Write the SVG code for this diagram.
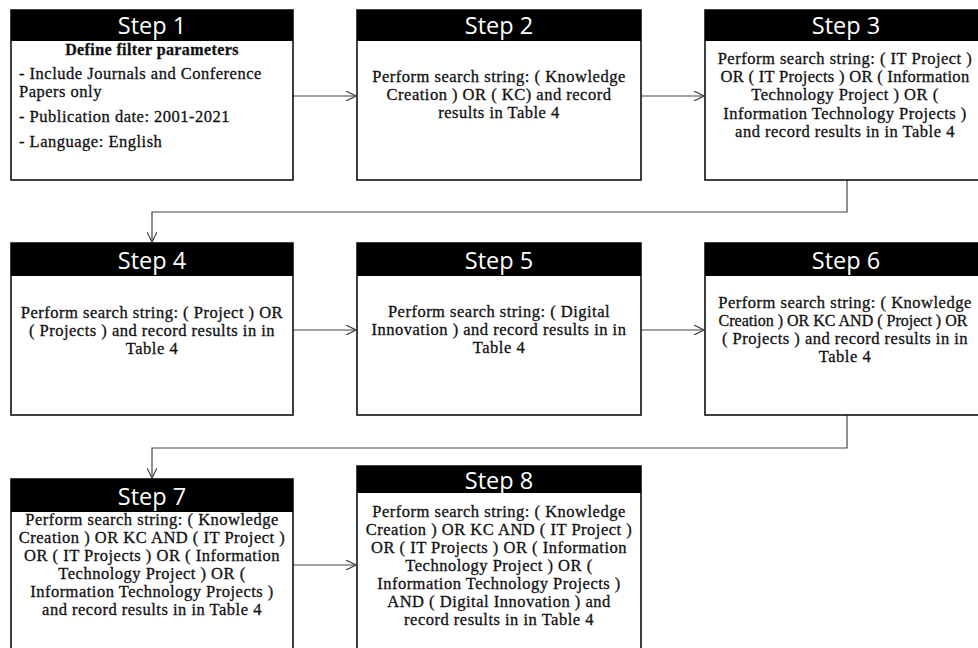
<svg xmlns="http://www.w3.org/2000/svg" width="978" height="648" viewBox="0 0 978 648">
<style>
.box{fill:#fff;stroke:#111;stroke-width:1.6}
.hdr{fill:#000}
.st{font-family:"Open Sans","Liberation Sans",sans-serif;font-size:23.5px;fill:#fff;text-anchor:middle}
.bt{font-family:"Liberation Serif","DejaVu Serif",serif;font-size:16.5px;letter-spacing:0.5px;fill:#111;stroke:#111;stroke-width:0.3;text-anchor:middle}
.lt{font-family:"Liberation Serif","DejaVu Serif",serif;font-size:16.5px;letter-spacing:0.5px;fill:#111;stroke:#111;stroke-width:0.3}
.con{fill:none;stroke:#444;stroke-width:1.2}
</style>
<defs>
<marker id="ah" viewBox="0 0 10 10" refX="10" refY="5" markerWidth="10" markerHeight="10" markerUnits="userSpaceOnUse" orient="auto">
<path d="M0,0 L10,5 L0,10" fill="none" stroke="#444" stroke-width="1.2"/>
</marker>
</defs>
<rect width="978" height="648" fill="#fff"/>
<g id="connectors">
<line class="con" x1="293" y1="96" x2="356" y2="96" marker-end="url(#ah)"/>
<line class="con" x1="641" y1="96" x2="704" y2="96" marker-end="url(#ah)"/>
<polyline class="con" points="847,180 847,212 152,212 152,242" marker-end="url(#ah)"/>
<line class="con" x1="293" y1="330" x2="356" y2="330" marker-end="url(#ah)"/>
<line class="con" x1="641" y1="330" x2="704" y2="330" marker-end="url(#ah)"/>
<polyline class="con" points="847,415 847,448 152,448 152,478" marker-end="url(#ah)"/>
<line class="con" x1="293" y1="565" x2="356" y2="565" marker-end="url(#ah)"/>
</g>
<g id="step1">
<rect class="box" x="11" y="10" width="282" height="170"/>
<rect class="hdr" x="11" y="10" width="282" height="31"/>
<text class="st" x="152" y="34">Step 1</text>
<text class="bt" x="152" y="55" style="font-weight:bold;font-size:16px;letter-spacing:0.4px">Define filter parameters</text>
<text class="lt" x="19" y="79">- Include Journals and Conference</text>
<text class="lt" x="19" y="97">Papers only</text>
<text class="lt" x="19" y="122">- Publication date: 2001-2021</text>
<text class="lt" x="19" y="147">- Language: English</text>
</g>
<g id="step2">
<rect class="box" x="357" y="10" width="284" height="170"/>
<rect class="hdr" x="357" y="10" width="284" height="31"/>
<text class="st" x="499" y="34">Step 2</text>
<text class="bt" x="499" y="82">Perform search string: ( Knowledge</text>
<text class="bt" x="499" y="100">Creation ) OR ( KC)  and record</text>
<text class="bt" x="499" y="118">results in Table 4</text>
</g>
<g id="step3">
<rect class="box" x="705" y="10" width="282" height="170"/>
<rect class="hdr" x="705" y="10" width="282" height="31"/>
<text class="st" x="846" y="34">Step 3</text>
<text class="bt" x="845" y="64">Perform search string: ( IT Project )</text>
<text class="bt" x="845" y="82" style="letter-spacing:0.3px">OR ( IT Projects ) OR ( Information</text>
<text class="bt" x="845" y="100">Technology Project ) OR (</text>
<text class="bt" x="845" y="119">Information Technology Projects )</text>
<text class="bt" x="845" y="137">and record results in in Table 4</text>
</g>
<g id="step4">
<rect class="box" x="11" y="243" width="282" height="172"/>
<rect class="hdr" x="11" y="243" width="282" height="33"/>
<text class="st" x="152" y="269">Step 4</text>
<text class="bt" x="152" y="318">Perform search string: ( Project ) OR</text>
<text class="bt" x="152" y="336">( Projects ) and record results in in</text>
<text class="bt" x="152" y="354">Table 4</text>
</g>
<g id="step5">
<rect class="box" x="357" y="243" width="284" height="172"/>
<rect class="hdr" x="357" y="243" width="284" height="33"/>
<text class="st" x="499" y="269">Step 5</text>
<text class="bt" x="499" y="317">Perform search string: ( Digital</text>
<text class="bt" x="499" y="335">Innovation ) and record results in in</text>
<text class="bt" x="499" y="353">Table 4</text>
</g>
<g id="step6">
<rect class="box" x="705" y="243" width="282" height="172"/>
<rect class="hdr" x="705" y="243" width="282" height="33"/>
<text class="st" x="846" y="269">Step 6</text>
<text class="bt" x="845" y="308">Perform search string: ( Knowledge</text>
<text class="bt" x="843" y="326" style="letter-spacing:0;font-size:16px">Creation ) OR KC AND ( Project ) OR</text>
<text class="bt" x="845" y="344">( Projects ) and record results in in</text>
<text class="bt" x="845" y="362">Table 4</text>
</g>
<g id="step7">
<rect class="box" x="11" y="479" width="282" height="190"/>
<rect class="hdr" x="11" y="479" width="282" height="33"/>
<text class="st" x="152" y="505">Step 7</text>
<text class="bt" x="152" y="525">Perform search string: ( Knowledge</text>
<text class="bt" x="152" y="543">Creation ) OR KC AND ( IT Project )</text>
<text class="bt" x="152" y="561">OR ( IT Projects ) OR ( Information</text>
<text class="bt" x="152" y="579">Technology Project ) OR (</text>
<text class="bt" x="152" y="597">Information Technology Projects )</text>
<text class="bt" x="152" y="615">and record results in in Table 4</text>
</g>
<g id="step8">
<rect class="box" x="357" y="466" width="284" height="200"/>
<rect class="hdr" x="357" y="466" width="284" height="27"/>
<text class="st" x="499" y="489">Step 8</text>
<text class="bt" x="499" y="517">Perform search string: ( Knowledge</text>
<text class="bt" x="499" y="535">Creation ) OR KC AND ( IT Project )</text>
<text class="bt" x="499" y="553">OR ( IT Projects ) OR ( Information</text>
<text class="bt" x="499" y="571">Technology Project ) OR (</text>
<text class="bt" x="499" y="589">Information Technology Projects )</text>
<text class="bt" x="499" y="607">AND ( Digital Innovation ) and</text>
<text class="bt" x="499" y="625">record results in in Table 4</text>
</g>
</svg>
